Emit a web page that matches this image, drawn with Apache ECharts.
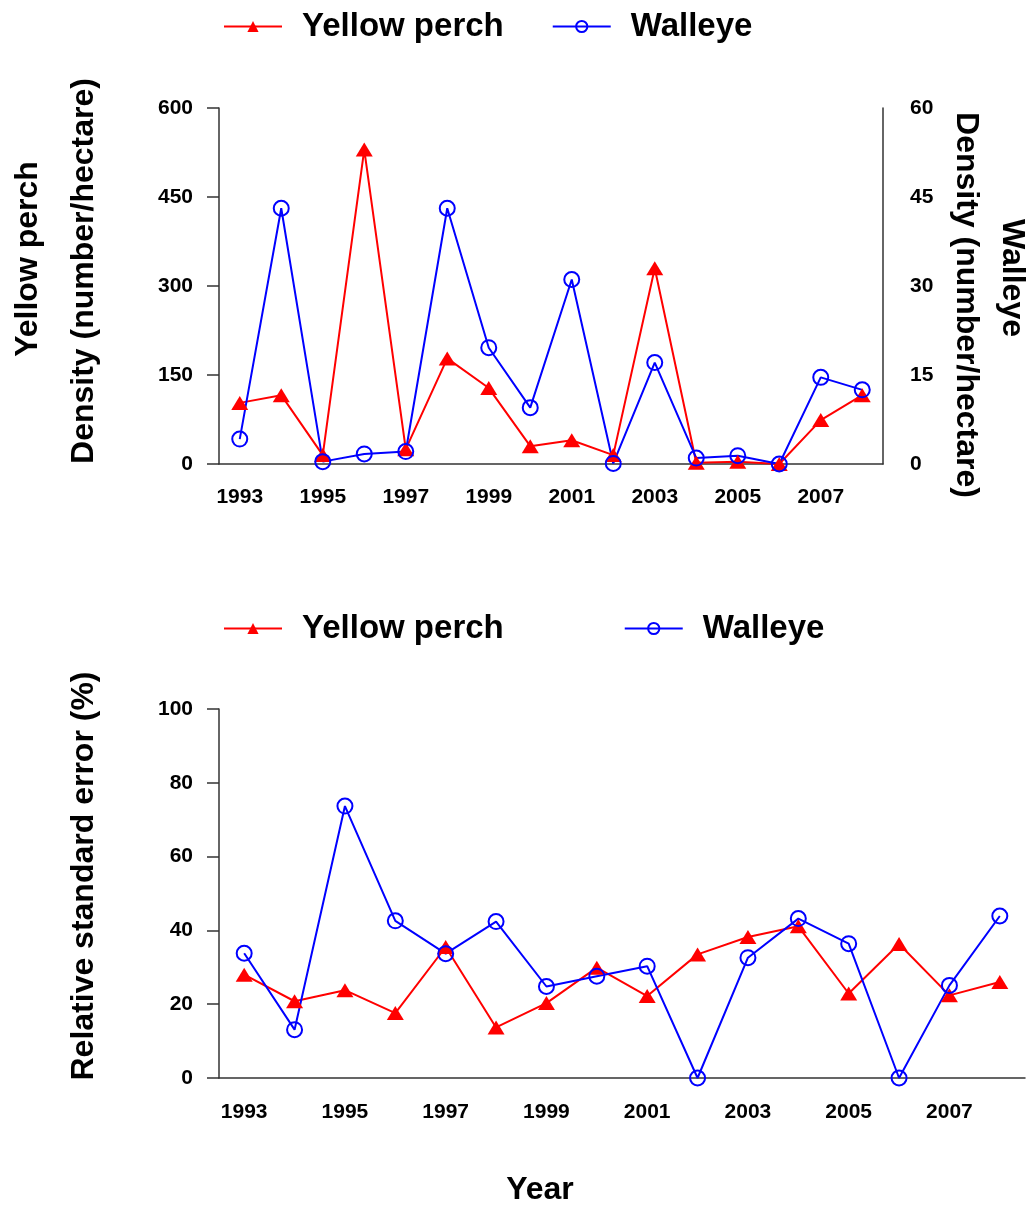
<!DOCTYPE html>
<html>
<head>
<meta charset="utf-8">
<script src="https://cdn.jsdelivr.net/npm/echarts@6/dist/echarts.min.js"></script>
<style>
  html, body { margin: 0; padding: 0; background: #fff; }
  #main { width: 1029px; height: 1207px; }
</style>
</head>
<body>
<div id="main"></div>
<script>
// x axis categories
var years = ['1993', '1994', '1995', '1996', '1997', '1998', '1999', '2000',
             '2001', '2002', '2003', '2004', '2005', '2006', '2007', '2008'];

// top panel: density (number/hectare)
var perchDensity = [103, 116, 15, 530, 25, 178, 128, 30, 40, 15, 330, 2, 4, 0, 74, 116];
var walleyeDensity = [4.2, 43.1, 0.4, 1.7, 2.1, 43.1, 19.6, 9.5, 31.1, 0.1, 17.1, 1.0, 1.4, 0, 14.6, 12.5];

// bottom panel: relative standard error (%)
var perchRSE = [28.0, 20.8, 23.8, 17.6, 35.5, 13.7, 20.3, 29.9, 22.2, 33.5, 38.2, 41.1, 22.9, 36.3, 22.4, 26.0];
var walleyeRSE = [33.8, 13.1, 73.7, 42.6, 33.7, 42.4, 24.8, 27.6, 30.3, 0, 32.6, 43.2, 36.4, 0, 25.1, 43.9];

var FONT = '"Liberation Sans", Arial, sans-serif';
var AXIS_COLOR = '#333';
var RED = '#ff0000';
var BLUE = '#0000ff';

var chart = echarts.init(document.getElementById('main'));

function xAxisCfg(gridIndex, margin) {
    return {
        type: 'category',
        gridIndex: gridIndex,
        data: years,
        boundaryGap: true,
        axisLine: { lineStyle: { color: AXIS_COLOR, width: 1.5 } },
        axisTick: { alignWithLabel: true, interval: 1, length: 12, lineStyle: { color: AXIS_COLOR, width: 1.5 } },
        axisLabel: { interval: 1, margin: margin, color: '#000', fontFamily: FONT, fontWeight: 'bold', fontSize: 21 }
    };
}

function yAxisCfg(gridIndex, max, step, pos) {
    var right = pos === 'right';
    return {
        type: 'value',
        gridIndex: gridIndex,
        position: pos,
        min: 0,
        max: max,
        interval: step,
        splitLine: { show: false },
        axisLine: { show: true, lineStyle: { color: AXIS_COLOR, width: 1.5 } },
        axisTick: { show: !right, length: 12, lineStyle: { color: AXIS_COLOR, width: 1.5 } },
        axisLabel: { margin: right ? 27 : 26, color: '#000', fontFamily: FONT, fontWeight: 'bold', fontSize: 21 }
    };
}

function lineSeries(name, data, xi, yi, color, symbol, filled) {
    return {
        name: name,
        type: 'line',
        xAxisIndex: xi,
        yAxisIndex: yi,
        data: data,
        clip: false,
        symbol: symbol,
        symbolSize: filled ? [17, 14] : 15,
        showAllSymbol: true,
        lineStyle: { color: color, width: 2 },
        itemStyle: filled
            ? { color: color, borderWidth: 0 }
            : { color: 'rgba(255,255,255,0)', borderColor: color, borderWidth: 2 }
    };
}

function legendCfg(top, gap) {
    return {
        left: 218,
        top: top,
        itemWidth: 58,
        itemHeight: 14,
        itemGap: gap,
        data: ['Yellow perch', 'Walleye'],
        textStyle: { color: '#000', fontFamily: FONT, fontWeight: 'bold', fontSize: 33, padding: [0, 0, 0, 15] }
    };
}

function titleText(text, x, y, rot) {
    return {
        type: 'text',
        x: x,
        y: y,
        rotation: rot,
        style: {
            text: text,
            fill: '#000',
            font: 'bold 32px ' + FONT,
            textAlign: 'center',
            textVerticalAlign: 'middle',
            align: 'center',
            verticalAlign: 'middle'
        }
    };
}

var option = {
    backgroundColor: '#fff',
    animation: false,
    legend: [legendCfg(5, 48), legendCfg(607, 120)],
    grid: [
        { left: 219, right: 146, top: 108, height: 356 },
        { left: 219, right: 4, top: 709, height: 369 }
    ],
    xAxis: [xAxisCfg(0, 23), xAxisCfg(1, 24)],
    yAxis: [
        yAxisCfg(0, 600, 150, 'left'),
        yAxisCfg(0, 60, 15, 'right'),
        yAxisCfg(1, 100, 20, 'left')
    ],
    series: [
        lineSeries('Yellow perch', perchDensity, 0, 0, RED, 'triangle', true),
        lineSeries('Walleye', walleyeDensity, 0, 1, BLUE, 'circle', false),
        lineSeries('Yellow perch', perchRSE, 1, 2, RED, 'triangle', true),
        lineSeries('Walleye', walleyeRSE, 1, 2, BLUE, 'circle', false)
    ],
    // axis titles
    graphic: [
        titleText('Yellow perch', 28, 259, Math.PI / 2),
        titleText('Density (number/hectare)', 84, 271, Math.PI / 2),
        titleText('Density (number/hectare)', 966, 305, -Math.PI / 2),
        titleText('Walleye', 1012, 278, -Math.PI / 2),
        titleText('Relative standard error (%)', 84, 876, Math.PI / 2),
        titleText('Year', 540, 1190, 0)
    ]
};

chart.setOption(option);
</script>
</body>
</html>
